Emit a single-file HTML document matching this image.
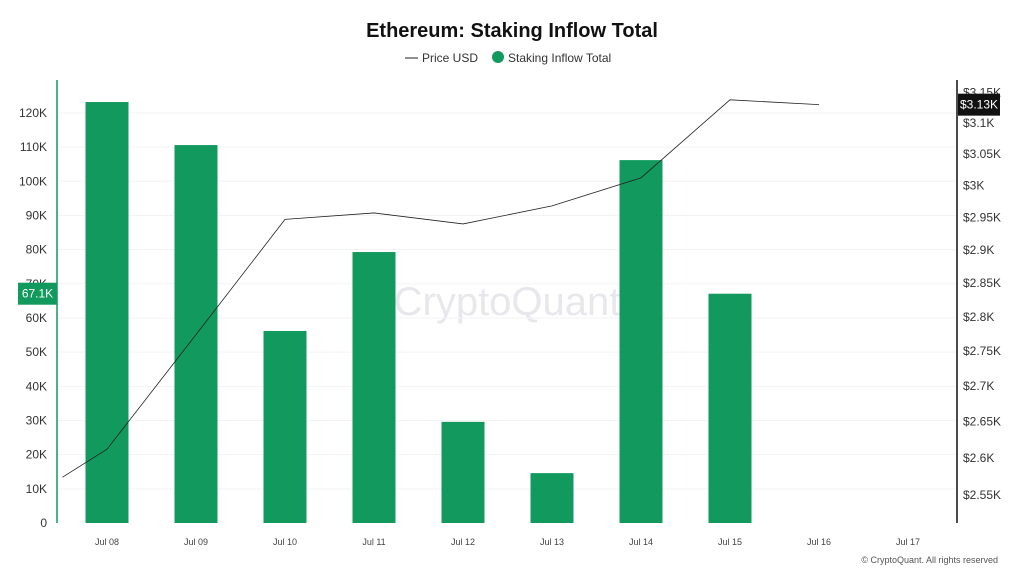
<!DOCTYPE html>
<html><head><meta charset="utf-8"><style>
body{margin:0;background:#fff;font-family:"Liberation Sans",sans-serif;}
svg text{font-family:"Liberation Sans",sans-serif;}
</style></head><body>
<svg id="c" width="1024" height="576" xmlns="http://www.w3.org/2000/svg">
<text x="512" y="37" text-anchor="middle" font-size="20" font-weight="bold" fill="#111">Ethereum: Staking Inflow Total</text>
<g>
<line x1="405" y1="58" x2="418" y2="58" stroke="#222" stroke-width="1"/>
<text x="422" y="62" font-size="12" fill="#333">Price USD</text>
<circle cx="498" cy="57" r="6" fill="#129a5e"/>
<text x="508" y="62" font-size="12" fill="#333">Staking Inflow Total</text>
</g>
<text x="507" y="315" text-anchor="middle" font-size="40" fill="#e8e8ec">CryptoQuant</text>
<g id="grid"></g><g id="bars"></g><g id="line"></g><g id="axes"></g>
<text x="998" y="563" text-anchor="end" font-size="9" fill="#555">© CryptoQuant. All rights reserved</text>
</svg>
<script>
const categories=["Jul 08","Jul 09","Jul 10","Jul 11","Jul 12","Jul 13","Jul 14","Jul 15","Jul 16","Jul 17"];
const inflow=[123200,110600,56200,79300,29600,14600,106200,67100,null,null];
const priceIdx=[-0.5,0,1,2,3,4,5,6,7,8];
const price=[2574,2612,2774,2947,2957,2940,2968,3012,3138,3130];
const leftTicks=[0,10000,20000,30000,40000,50000,60000,70000,80000,90000,100000,110000,120000];
const rightTicks=[2550,2600,2650,2700,2750,2800,2850,2900,2950,3000,3050,3100,3150];
const NS="http://www.w3.org/2000/svg";
function mk(t,a,p){const e=document.createElementNS(NS,t);for(const k in a)e.setAttribute(k,a[k]);p.appendChild(e);return e;}
const x=i=>107+i*89;
const yL=v=>523-v/10000*34.17;
const yR=p=>123+Math.log(3100/p)/0.000525;
const G=document.getElementById('grid'),B=document.getElementById('bars'),L=document.getElementById('line'),A=document.getElementById('axes');
leftTicks.forEach(v=>{
 if(v>0){const g=mk('line',{x1:57,x2:957,y1:yL(v),y2:yL(v),stroke:'#f3f3f3'},G);
 
 }
 const t=mk('text',{x:47,y:yL(v)+4,'text-anchor':'end','font-size':12,fill:'#333'},A);t.textContent=v===0?'0':(v/1000)+'K';
 
 
});
rightTicks.forEach(p=>{
 const t=mk('text',{x:963,y:yR(p)+4,'font-size':12,fill:'#333'},A);t.textContent='$'+(p/1000)+'K';
 
 
});
categories.forEach((c,i)=>{
 const t=mk('text',{x:x(i),y:545,'text-anchor':'middle','font-size':9,fill:'#444'},A);t.textContent=c;
 
 
 if(inflow[i]!=null){const r=mk('rect',{x:x(i)-21.5,y:yL(inflow[i]),width:43,height:523-yL(inflow[i]),fill:'#129a5e'},B);
 
 }
});
const pl=mk('polyline',{points:price.map((p,i)=>x(priceIdx[i])+','+yR(p)).join(' '),fill:'none',stroke:'#222','stroke-width':0.8},L);


const al=mk('line',{x1:57,x2:57,y1:80,y2:523,stroke:'#129a5e','stroke-width':1.5},A);


const ar=mk('line',{x1:957,x2:957,y1:80,y2:523,stroke:'#111','stroke-width':1.5},A);


const lastIn=inflow[7],ly=yL(lastIn);
const lb=mk('rect',{x:18,y:ly-11,width:39,height:22,fill:'#129a5e'},A);


const lt=mk('text',{x:37.5,y:ly+4,'text-anchor':'middle','font-size':12,fill:'#fff'},A);lt.textContent=(lastIn/1000).toFixed(1)+'K';


const lp=price[price.length-1],py=yR(lp);
const rb=mk('rect',{x:958,y:py-11,width:42,height:22,fill:'#111'},A);


const rt=mk('text',{x:979,y:py+4,'text-anchor':'middle','font-size':12,fill:'#fff'},A);rt.textContent='$'+(lp/1000).toFixed(2)+'K';


</script>
</body></html>
